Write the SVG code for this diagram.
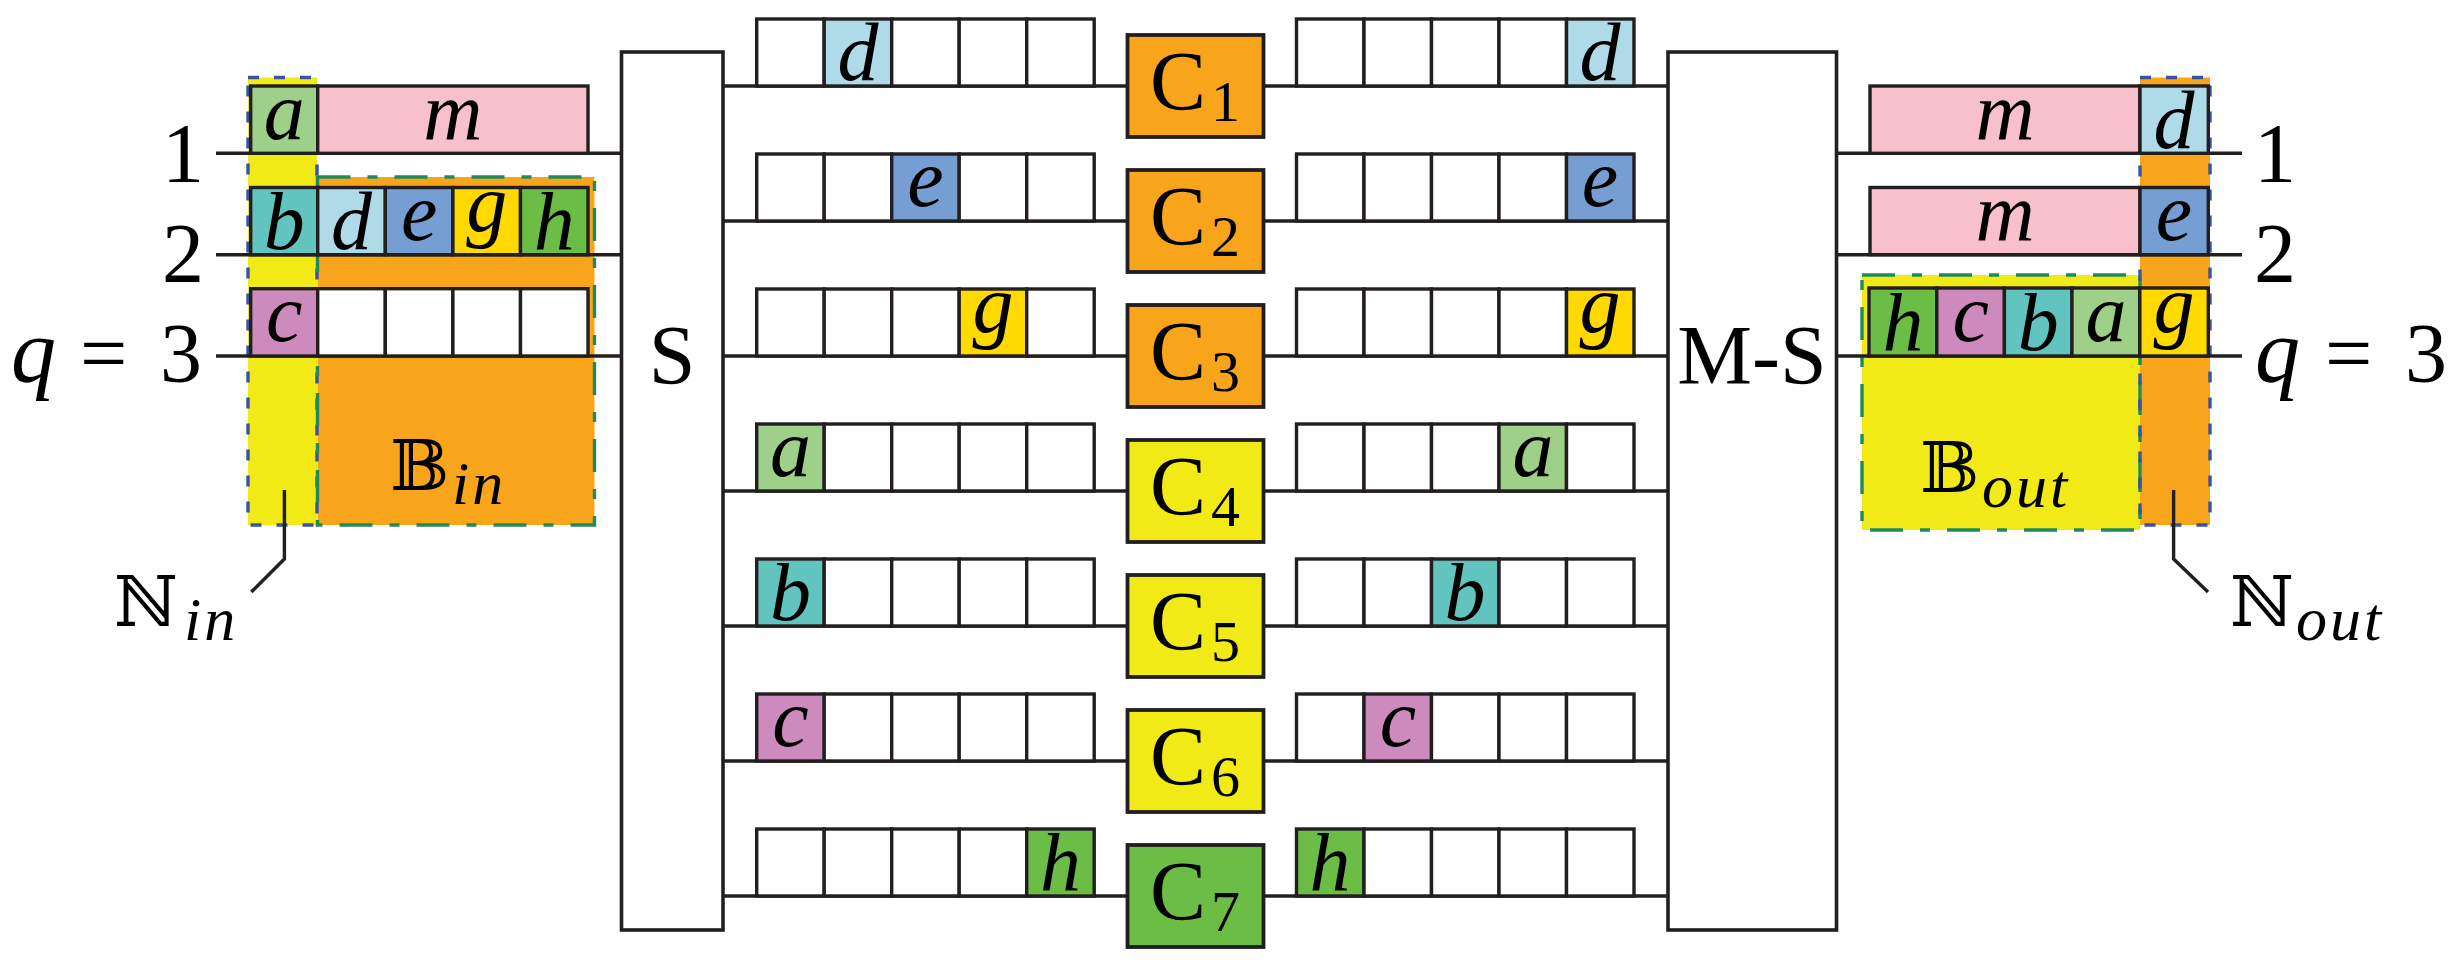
<svg xmlns="http://www.w3.org/2000/svg" width="2455" height="960" viewBox="0 0 2455 960">
<style>
  .ln{stroke:#231F20;stroke-width:3.4;fill:none}
  .cell{stroke:#231F20;stroke-width:3.4}
  .box{stroke:#231F20;stroke-width:3.6;fill:#fff}
  .cbox{stroke:#231F20;stroke-width:3.8}
  .t{font-family:"Liberation Serif","DejaVu Serif",serif;fill:#000}
  .it{font-family:"Liberation Serif","DejaVu Serif",serif;font-style:italic;fill:#000;font-size:82px;text-anchor:middle}
  .big{font-size:84px}
  .ds{font-family:"DejaVu Serif","DejaVu Sans",serif;font-size:70px;fill:#000}
  .sub{font-family:"Liberation Serif","DejaVu Serif",serif;font-style:italic;font-size:62px;letter-spacing:3px;fill:#000}
  .w{fill:#fff}
  .or{fill:#F8A51C}
  .ye{fill:#F2EA16}
  .gr{fill:#6BBD45}
  .ca{fill:#9ED089}
  .cb{fill:#62C4BF}
  .cc{fill:#CD8ABD}
  .cd{fill:#AFDAE8}
  .ce{fill:#779ED2}
  .cg{fill:#FFD900}
  .ch{fill:#6BBD45}
  .cm{fill:#F8C0CC}
  .nb{fill:none;stroke:#3953A4;stroke-width:3.4;stroke-dasharray:11 15}
  .bg{fill:none;stroke:#1F8B5A;stroke-width:3.4;stroke-dasharray:33 17 10 17}
</style>

<!-- highlighted regions (fills) -->
<g id="region-fills">
  <rect x="248" y="77.5" width="69" height="447.5" class="ye"/>
  <rect x="317.5" y="177" width="277" height="348" class="or"/>
  <rect x="1862" y="275" width="278" height="255" class="ye"/>
  <rect x="2140" y="77.5" width="70" height="447.5" class="or"/>
</g>
<g id="region-borders">
  <rect x="248" y="77.5" width="69" height="447.5" class="nb"/>
  <rect x="317.5" y="177" width="277" height="348" class="bg"/>
  <rect x="1862" y="275" width="278" height="255" class="bg"/>
  <rect x="2140" y="77.5" width="70" height="447.5" class="nb"/>
</g>

<!-- connectors -->
<g id="connectors">
  <line class="ln" x1="216" y1="153.3" x2="621.5" y2="153.3"/>
  <line class="ln" x1="216" y1="254.7" x2="621.5" y2="254.7"/>
  <line class="ln" x1="216" y1="356" x2="621.5" y2="356"/>
  <line class="ln" x1="1836.5" y1="153.3" x2="2242" y2="153.3"/>
  <line class="ln" x1="1836.5" y1="254.7" x2="2242" y2="254.7"/>
  <line class="ln" x1="1836.5" y1="356" x2="2242" y2="356"/>
  <line class="ln" x1="723" y1="86" x2="1127.5" y2="86"/>
  <line class="ln" x1="1263.5" y1="86" x2="1668" y2="86"/>
  <line class="ln" x1="723" y1="221" x2="1127.5" y2="221"/>
  <line class="ln" x1="1263.5" y1="221" x2="1668" y2="221"/>
  <line class="ln" x1="723" y1="356" x2="1127.5" y2="356"/>
  <line class="ln" x1="1263.5" y1="356" x2="1668" y2="356"/>
  <line class="ln" x1="723" y1="491" x2="1127.5" y2="491"/>
  <line class="ln" x1="1263.5" y1="491" x2="1668" y2="491"/>
  <line class="ln" x1="723" y1="626" x2="1127.5" y2="626"/>
  <line class="ln" x1="1263.5" y1="626" x2="1668" y2="626"/>
  <line class="ln" x1="723" y1="761" x2="1127.5" y2="761"/>
  <line class="ln" x1="1263.5" y1="761" x2="1668" y2="761"/>
  <line class="ln" x1="723" y1="896" x2="1127.5" y2="896"/>
  <line class="ln" x1="1263.5" y1="896" x2="1668" y2="896"/>
  <polyline class="ln" points="284.4,490 284.4,559 251.3,592"/>
  <polyline class="ln" points="2173.6,490 2173.6,559 2208,592"/>
</g>

<!-- input labels -->
<g id="input-labels">
  <text class="t big" x="183" y="181.7" text-anchor="middle">1</text>
  <text class="t big" x="183" y="281.7" text-anchor="middle">2</text>
  <text class="t big" y="382"><tspan x="11" font-style="italic" font-size="90">q</tspan><tspan x="80">=</tspan><tspan x="160">3</tspan></text>
  <text class="ds" x="114" y="626">ℕ</text>
  <text class="sub" x="184" y="640">in</text>
</g>
<g id="output-labels">
  <text class="t big" x="2275" y="181.7" text-anchor="middle">1</text>
  <text class="t big" x="2275" y="281.7" text-anchor="middle">2</text>
  <text class="t big" y="382"><tspan x="2255" font-style="italic" font-size="90">q</tspan><tspan x="2325">=</tspan><tspan x="2405">3</tspan></text>
  <text class="ds" x="2230" y="626">ℕ</text>
  <text class="sub" x="2296" y="640">out</text>
</g>

<!-- input buffer -->
<g id="input-buffer">
  <rect class="cell ca" x="250.7" y="86" width="67" height="67.3"/>
  <rect class="cell cm" x="317.7" y="86" width="270.3" height="67.3"/>
  <rect class="cell cb" x="250.7" y="187.5" width="67" height="67.2"/>
  <rect class="cell cd" x="317.7" y="187.5" width="67.6" height="67.2"/>
  <rect class="cell ce" x="385.3" y="187.5" width="67.6" height="67.2"/>
  <rect class="cell cg" x="452.9" y="187.5" width="67.6" height="67.2"/>
  <rect class="cell ch" x="520.5" y="187.5" width="67.5" height="67.2"/>
  <rect class="cell cc" x="250.7" y="288.7" width="67" height="67.3"/>
  <rect class="cell w" x="317.7" y="288.7" width="67.6" height="67.3"/>
  <rect class="cell w" x="385.3" y="288.7" width="67.6" height="67.3"/>
  <rect class="cell w" x="452.9" y="288.7" width="67.6" height="67.3"/>
  <rect class="cell w" x="520.5" y="288.7" width="67.5" height="67.3"/>
  <text class="it" x="284.2" y="139">a</text>
  <text class="it" x="452.8" y="139">m</text>
  <text class="it" x="284.2" y="249">b</text>
  <text class="it" x="351.5" y="249">d</text>
  <text class="it" x="419.1" y="240">e</text>
  <text class="it" x="486.7" y="231">g</text>
  <text class="it" x="554.2" y="249">h</text>
  <text class="it" x="284.2" y="341">c</text>
  <text class="ds" x="390" y="489.5">𝔹</text>
  <text class="sub" x="452" y="504">in</text>
</g>

<!-- output buffer -->
<g id="output-buffer">
  <rect class="cell cm" x="1870" y="86" width="270" height="67.3"/>
  <rect class="cell cd" x="2140" y="86" width="68.3" height="67.3"/>
  <rect class="cell cm" x="1870" y="187.5" width="270" height="67.2"/>
  <rect class="cell ce" x="2140" y="187.5" width="68.3" height="67.2"/>
  <rect class="cell ch" x="1869" y="288" width="67.8" height="68"/>
  <rect class="cell cc" x="1936.8" y="288" width="67.6" height="68"/>
  <rect class="cell cb" x="2004.4" y="288" width="67.6" height="68"/>
  <rect class="cell ca" x="2072" y="288" width="67.8" height="68"/>
  <rect class="cell cg" x="2139.8" y="288" width="68.5" height="68"/>
  <text class="it" x="2005" y="139">m</text>
  <text class="it" x="2174" y="148">d</text>
  <text class="it" x="2005" y="240">m</text>
  <text class="it" x="2174" y="240">e</text>
  <text class="it" x="1903" y="350">h</text>
  <text class="it" x="1970.6" y="341">c</text>
  <text class="it" x="2038.2" y="350">b</text>
  <text class="it" x="2106" y="341">a</text>
  <text class="it" x="2174" y="332">g</text>
  <text class="ds" x="1920" y="492">𝔹</text>
  <text class="sub" x="1982" y="507">out</text>
</g>

<!-- splitter and merger -->
<g id="S">
  <rect class="box" x="621.5" y="52" width="101.5" height="878"/>
  <text class="t big" x="672" y="384" text-anchor="middle">S</text>
</g>
<g id="M-S">
  <rect class="box" x="1668" y="52" width="168.5" height="878"/>
  <text class="t big" x="1752" y="384" text-anchor="middle">M-S</text>
</g>

<!-- channel buffers: left -->
<g id="left-buffers">
  <g id="lb1">
    <rect class="cell w" x="756.7" y="19" width="67.5" height="67"/><rect class="cell cd" x="824.2" y="19" width="67.5" height="67"/><rect class="cell w" x="891.7" y="19" width="67.5" height="67"/><rect class="cell w" x="959.2" y="19" width="67.5" height="67"/><rect class="cell w" x="1026.7" y="19" width="67.5" height="67"/>
    <text class="it" x="858" y="80">d</text>
  </g>
  <g id="lb2">
    <rect class="cell w" x="756.7" y="154" width="67.5" height="67"/><rect class="cell w" x="824.2" y="154" width="67.5" height="67"/><rect class="cell ce" x="891.7" y="154" width="67.5" height="67"/><rect class="cell w" x="959.2" y="154" width="67.5" height="67"/><rect class="cell w" x="1026.7" y="154" width="67.5" height="67"/>
    <text class="it" x="925.5" y="206">e</text>
  </g>
  <g id="lb3">
    <rect class="cell w" x="756.7" y="289" width="67.5" height="67"/><rect class="cell w" x="824.2" y="289" width="67.5" height="67"/><rect class="cell w" x="891.7" y="289" width="67.5" height="67"/><rect class="cell cg" x="959.2" y="289" width="67.5" height="67"/><rect class="cell w" x="1026.7" y="289" width="67.5" height="67"/>
    <text class="it" x="993" y="332">g</text>
  </g>
  <g id="lb4">
    <rect class="cell ca" x="756.7" y="424" width="67.5" height="67"/><rect class="cell w" x="824.2" y="424" width="67.5" height="67"/><rect class="cell w" x="891.7" y="424" width="67.5" height="67"/><rect class="cell w" x="959.2" y="424" width="67.5" height="67"/><rect class="cell w" x="1026.7" y="424" width="67.5" height="67"/>
    <text class="it" x="790.5" y="476">a</text>
  </g>
  <g id="lb5">
    <rect class="cell cb" x="756.7" y="559" width="67.5" height="67"/><rect class="cell w" x="824.2" y="559" width="67.5" height="67"/><rect class="cell w" x="891.7" y="559" width="67.5" height="67"/><rect class="cell w" x="959.2" y="559" width="67.5" height="67"/><rect class="cell w" x="1026.7" y="559" width="67.5" height="67"/>
    <text class="it" x="790.5" y="620">b</text>
  </g>
  <g id="lb6">
    <rect class="cell cc" x="756.7" y="694" width="67.5" height="67"/><rect class="cell w" x="824.2" y="694" width="67.5" height="67"/><rect class="cell w" x="891.7" y="694" width="67.5" height="67"/><rect class="cell w" x="959.2" y="694" width="67.5" height="67"/><rect class="cell w" x="1026.7" y="694" width="67.5" height="67"/>
    <text class="it" x="790.5" y="746">c</text>
  </g>
  <g id="lb7">
    <rect class="cell w" x="756.7" y="829" width="67.5" height="67"/><rect class="cell w" x="824.2" y="829" width="67.5" height="67"/><rect class="cell w" x="891.7" y="829" width="67.5" height="67"/><rect class="cell w" x="959.2" y="829" width="67.5" height="67"/><rect class="cell ch" x="1026.7" y="829" width="67.5" height="67"/>
    <text class="it" x="1060.5" y="890">h</text>
  </g>
</g>

<!-- channel buffers: right -->
<g id="right-buffers">
  <g id="rb1">
    <rect class="cell w" x="1296.5" y="19" width="67.5" height="67"/><rect class="cell w" x="1364" y="19" width="67.5" height="67"/><rect class="cell w" x="1431.5" y="19" width="67.5" height="67"/><rect class="cell w" x="1499" y="19" width="67.5" height="67"/><rect class="cell cd" x="1566.5" y="19" width="67.5" height="67"/>
    <text class="it" x="1600" y="80">d</text>
  </g>
  <g id="rb2">
    <rect class="cell w" x="1296.5" y="154" width="67.5" height="67"/><rect class="cell w" x="1364" y="154" width="67.5" height="67"/><rect class="cell w" x="1431.5" y="154" width="67.5" height="67"/><rect class="cell w" x="1499" y="154" width="67.5" height="67"/><rect class="cell ce" x="1566.5" y="154" width="67.5" height="67"/>
    <text class="it" x="1600" y="206">e</text>
  </g>
  <g id="rb3">
    <rect class="cell w" x="1296.5" y="289" width="67.5" height="67"/><rect class="cell w" x="1364" y="289" width="67.5" height="67"/><rect class="cell w" x="1431.5" y="289" width="67.5" height="67"/><rect class="cell w" x="1499" y="289" width="67.5" height="67"/><rect class="cell cg" x="1566.5" y="289" width="67.5" height="67"/>
    <text class="it" x="1600" y="332">g</text>
  </g>
  <g id="rb4">
    <rect class="cell w" x="1296.5" y="424" width="67.5" height="67"/><rect class="cell w" x="1364" y="424" width="67.5" height="67"/><rect class="cell w" x="1431.5" y="424" width="67.5" height="67"/><rect class="cell ca" x="1499" y="424" width="67.5" height="67"/><rect class="cell w" x="1566.5" y="424" width="67.5" height="67"/>
    <text class="it" x="1533" y="476">a</text>
  </g>
  <g id="rb5">
    <rect class="cell w" x="1296.5" y="559" width="67.5" height="67"/><rect class="cell w" x="1364" y="559" width="67.5" height="67"/><rect class="cell cb" x="1431.5" y="559" width="67.5" height="67"/><rect class="cell w" x="1499" y="559" width="67.5" height="67"/><rect class="cell w" x="1566.5" y="559" width="67.5" height="67"/>
    <text class="it" x="1465" y="620">b</text>
  </g>
  <g id="rb6">
    <rect class="cell w" x="1296.5" y="694" width="67.5" height="67"/><rect class="cell cc" x="1364" y="694" width="67.5" height="67"/><rect class="cell w" x="1431.5" y="694" width="67.5" height="67"/><rect class="cell w" x="1499" y="694" width="67.5" height="67"/><rect class="cell w" x="1566.5" y="694" width="67.5" height="67"/>
    <text class="it" x="1398" y="746">c</text>
  </g>
  <g id="rb7">
    <rect class="cell ch" x="1296.5" y="829" width="67.5" height="67"/><rect class="cell w" x="1364" y="829" width="67.5" height="67"/><rect class="cell w" x="1431.5" y="829" width="67.5" height="67"/><rect class="cell w" x="1499" y="829" width="67.5" height="67"/><rect class="cell w" x="1566.5" y="829" width="67.5" height="67"/>
    <text class="it" x="1330" y="890">h</text>
  </g>
</g>

<!-- channels -->
<g id="C1"><rect class="cbox or" x="1127.5" y="35" width="136" height="102"/><text class="t big" x="1150" y="109.5">C<tspan x="1211" y="121" font-size="58">1</tspan></text></g>
<g id="C2"><rect class="cbox or" x="1127.5" y="170" width="136" height="102"/><text class="t big" x="1150" y="244.5">C<tspan x="1211" y="256" font-size="58">2</tspan></text></g>
<g id="C3"><rect class="cbox or" x="1127.5" y="305" width="136" height="102"/><text class="t big" x="1150" y="379.5">C<tspan x="1211" y="391" font-size="58">3</tspan></text></g>
<g id="C4"><rect class="cbox ye" x="1127.5" y="440" width="136" height="102"/><text class="t big" x="1150" y="514.5">C<tspan x="1211" y="526" font-size="58">4</tspan></text></g>
<g id="C5"><rect class="cbox ye" x="1127.5" y="575" width="136" height="102"/><text class="t big" x="1150" y="649.5">C<tspan x="1211" y="661" font-size="58">5</tspan></text></g>
<g id="C6"><rect class="cbox ye" x="1127.5" y="710" width="136" height="102"/><text class="t big" x="1150" y="784.5">C<tspan x="1211" y="796" font-size="58">6</tspan></text></g>
<g id="C7"><rect class="cbox gr" x="1127.5" y="845" width="136" height="102"/><text class="t big" x="1150" y="919.5">C<tspan x="1211" y="931" font-size="58">7</tspan></text></g>
</svg>
